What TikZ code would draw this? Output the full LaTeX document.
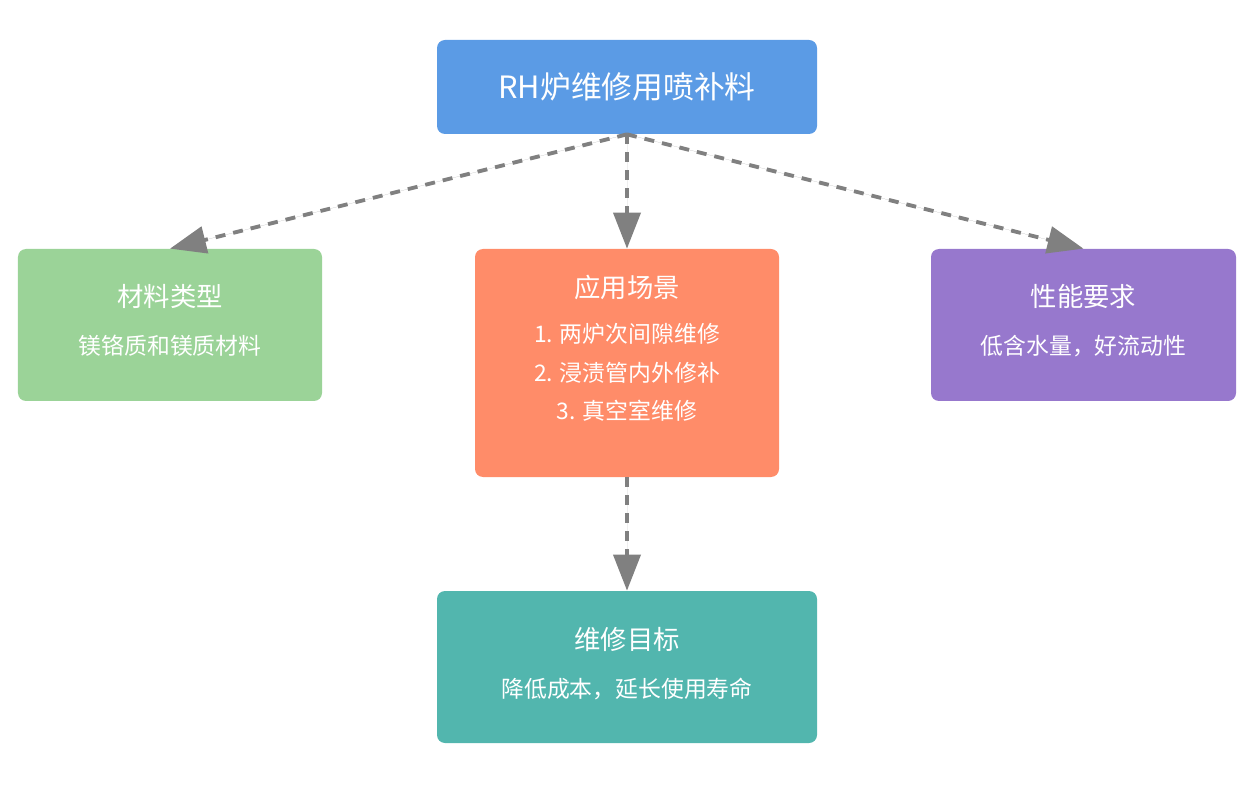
\documentclass[tikz,border=0pt]{standalone}
\usepackage{fontspec}
\setmainfont{Noto Sans CJK SC}
\usepackage{xcolor}
\usetikzlibrary{calc, arrows.meta, positioning}
\definecolor{topblue}{RGB}{91,155,229}
\definecolor{typegreen}{RGB}{155,211,152}
\definecolor{sceneorange}{RGB}{255,140,105}
\definecolor{needpurple}{RGB}{151,120,205}
\definecolor{goalteal}{RGB}{82,182,174}
\definecolor{flowgray}{RGB}{128,128,128}

\begin{document}
\begin{tikzpicture}[
  every node/.style={text=white},
  card/.style={rounded corners=0.16cm, minimum width=6.08cm, minimum height=3.04cm, inner sep=0pt},
  cardtitle/.style={font=\fontsize{15}{18}\selectfont},
  cardline/.style={font=\fontsize{13}{16}\selectfont},
  flow/.style={draw=flowgray, line width=2.2pt, dash pattern=on 0.2cm off 0.16cm,
    -{Triangle[length=0.72cm, width=0.54cm]}, fill=flowgray}
]
\useasboundingbox (0,0) rectangle (25.14,-15.74);
\node[card, fill=topblue, minimum width=7.6cm, minimum height=1.88cm,
  font=\fontsize{17.5}{21}\selectfont] (spray) at (12.54,-1.74) {RH炉维修用喷补料};
\node[card, fill=typegreen] (type) at (3.4,-6.5) {};
\node[card, fill=sceneorange, minimum height=4.56cm] (scene) at (12.54,-7.26) {};
\node[card, fill=needpurple, minimum width=6.1cm] (need) at (21.67,-6.5) {};
\node[card, fill=goalteal, minimum width=7.6cm] (goal) at (12.54,-13.34) {};
\node[cardtitle] (type-title) at ([yshift=-0.96cm]type.north) {材料类型};
\node[cardline] (type-text) at ([yshift=-1.94cm]type.north) {镁铬质和镁质材料};
\node[cardtitle] (scene-title) at ([yshift=-0.78cm]scene.north) {应用场景};
\node[cardline] (scene-one) at ([yshift=-1.7cm]scene.north) {1. 两炉次间隙维修};
\node[cardline] (scene-two) at ([yshift=-2.48cm]scene.north) {2. 浸渍管内外修补};
\node[cardline] (scene-three) at ([yshift=-3.24cm]scene.north) {3. 真空室维修};
\node[cardtitle] (need-title) at ([yshift=-0.96cm]need.north) {性能要求};
\node[cardline] (need-text) at ([yshift=-1.94cm]need.north) {低含水量，好流动性};
\node[cardtitle] (goal-title) at ([yshift=-0.98cm]goal.north) {维修目标};
\node[cardline] (goal-text) at ([yshift=-1.96cm]goal.north) {降低成本，延长使用寿命};
\draw[flow] (spray.south) -- (type.north);
\draw[flow] (spray.south) -- (scene.north);
\draw[flow] (spray.south) -- (need.north);
\draw[flow] (scene.south) -- (goal.north);
\end{tikzpicture}
\end{document}
